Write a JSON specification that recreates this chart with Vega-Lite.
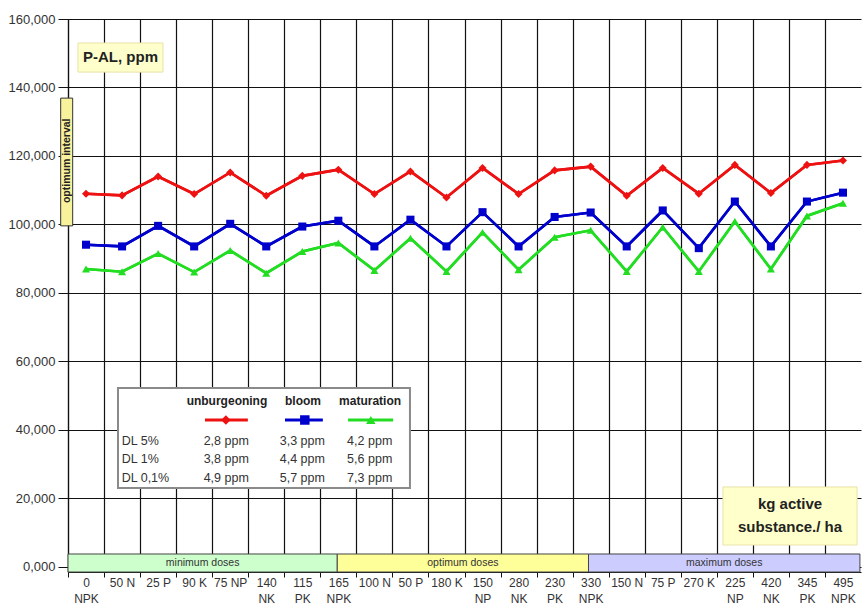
{
  "$schema": "https://vega.github.io/schema/vega-lite/v6.json",
  "width": 793,
  "height": 553,
  "autosize": {"type": "none"},
  "padding": {"left": 68, "top": 19, "right": 1, "bottom": 41},
  "background": "white",
  "config": {
    "view": {"stroke": null},
    "font": "Liberation Sans",
    "locale": {"number": {"decimal": ",", "thousands": ".", "grouping": [3], "currency": ["", ""]}}
  },
  "datasets": {
    "doses": [
      {"idx": 1, "dose": "0 NPK", "stage": "unburgeoning", "ppm": 109.0},
      {"idx": 2, "dose": "50 N", "stage": "unburgeoning", "ppm": 108.5},
      {"idx": 3, "dose": "25 P", "stage": "unburgeoning", "ppm": 114.0},
      {"idx": 4, "dose": "90 K", "stage": "unburgeoning", "ppm": 108.9},
      {"idx": 5, "dose": "75 NP", "stage": "unburgeoning", "ppm": 115.2},
      {"idx": 6, "dose": "140 NK", "stage": "unburgeoning", "ppm": 108.4},
      {"idx": 7, "dose": "115 PK", "stage": "unburgeoning", "ppm": 114.2},
      {"idx": 8, "dose": "165 NPK", "stage": "unburgeoning", "ppm": 116.0},
      {"idx": 9, "dose": "100 N", "stage": "unburgeoning", "ppm": 108.9},
      {"idx": 10, "dose": "50 P", "stage": "unburgeoning", "ppm": 115.5},
      {"idx": 11, "dose": "180 K", "stage": "unburgeoning", "ppm": 107.9},
      {"idx": 12, "dose": "150 NP", "stage": "unburgeoning", "ppm": 116.5},
      {"idx": 13, "dose": "280 NK", "stage": "unburgeoning", "ppm": 108.9},
      {"idx": 14, "dose": "230 PK", "stage": "unburgeoning", "ppm": 115.8},
      {"idx": 15, "dose": "330 NPK", "stage": "unburgeoning", "ppm": 116.9},
      {"idx": 16, "dose": "150 N", "stage": "unburgeoning", "ppm": 108.4},
      {"idx": 17, "dose": "75 P", "stage": "unburgeoning", "ppm": 116.5},
      {"idx": 18, "dose": "270 K", "stage": "unburgeoning", "ppm": 109.0},
      {"idx": 19, "dose": "225 NP", "stage": "unburgeoning", "ppm": 117.4},
      {"idx": 20, "dose": "420 NK", "stage": "unburgeoning", "ppm": 109.2},
      {"idx": 21, "dose": "345 PK", "stage": "unburgeoning", "ppm": 117.4},
      {"idx": 22, "dose": "495 NPK", "stage": "unburgeoning", "ppm": 118.7},
      {"idx": 1, "dose": "0 NPK", "stage": "bloom", "ppm": 94.1},
      {"idx": 2, "dose": "50 N", "stage": "bloom", "ppm": 93.6},
      {"idx": 3, "dose": "25 P", "stage": "bloom", "ppm": 99.6},
      {"idx": 4, "dose": "90 K", "stage": "bloom", "ppm": 93.6},
      {"idx": 5, "dose": "75 NP", "stage": "bloom", "ppm": 100.2},
      {"idx": 6, "dose": "140 NK", "stage": "bloom", "ppm": 93.6},
      {"idx": 7, "dose": "115 PK", "stage": "bloom", "ppm": 99.4},
      {"idx": 8, "dose": "165 NPK", "stage": "bloom", "ppm": 101.1},
      {"idx": 9, "dose": "100 N", "stage": "bloom", "ppm": 93.6},
      {"idx": 10, "dose": "50 P", "stage": "bloom", "ppm": 101.4},
      {"idx": 11, "dose": "180 K", "stage": "bloom", "ppm": 93.6},
      {"idx": 12, "dose": "150 NP", "stage": "bloom", "ppm": 103.6},
      {"idx": 13, "dose": "280 NK", "stage": "bloom", "ppm": 93.6},
      {"idx": 14, "dose": "230 PK", "stage": "bloom", "ppm": 102.2},
      {"idx": 15, "dose": "330 NPK", "stage": "bloom", "ppm": 103.5},
      {"idx": 16, "dose": "150 N", "stage": "bloom", "ppm": 93.6},
      {"idx": 17, "dose": "75 P", "stage": "bloom", "ppm": 104.1},
      {"idx": 18, "dose": "270 K", "stage": "bloom", "ppm": 93.1},
      {"idx": 19, "dose": "225 NP", "stage": "bloom", "ppm": 106.7},
      {"idx": 20, "dose": "420 NK", "stage": "bloom", "ppm": 93.6},
      {"idx": 21, "dose": "345 PK", "stage": "bloom", "ppm": 106.7},
      {"idx": 22, "dose": "495 NPK", "stage": "bloom", "ppm": 109.3},
      {"idx": 1, "dose": "0 NPK", "stage": "maturation", "ppm": 87.0},
      {"idx": 2, "dose": "50 N", "stage": "maturation", "ppm": 86.2},
      {"idx": 3, "dose": "25 P", "stage": "maturation", "ppm": 91.5},
      {"idx": 4, "dose": "90 K", "stage": "maturation", "ppm": 86.1},
      {"idx": 5, "dose": "75 NP", "stage": "maturation", "ppm": 92.4},
      {"idx": 6, "dose": "140 NK", "stage": "maturation", "ppm": 85.8},
      {"idx": 7, "dose": "115 PK", "stage": "maturation", "ppm": 92.1},
      {"idx": 8, "dose": "165 NPK", "stage": "maturation", "ppm": 94.6},
      {"idx": 9, "dose": "100 N", "stage": "maturation", "ppm": 86.6},
      {"idx": 10, "dose": "50 P", "stage": "maturation", "ppm": 96.0},
      {"idx": 11, "dose": "180 K", "stage": "maturation", "ppm": 86.3},
      {"idx": 12, "dose": "150 NP", "stage": "maturation", "ppm": 97.7},
      {"idx": 13, "dose": "280 NK", "stage": "maturation", "ppm": 86.8},
      {"idx": 14, "dose": "230 PK", "stage": "maturation", "ppm": 96.3},
      {"idx": 15, "dose": "330 NPK", "stage": "maturation", "ppm": 98.3},
      {"idx": 16, "dose": "150 N", "stage": "maturation", "ppm": 86.3},
      {"idx": 17, "dose": "75 P", "stage": "maturation", "ppm": 99.2},
      {"idx": 18, "dose": "270 K", "stage": "maturation", "ppm": 86.3},
      {"idx": 19, "dose": "225 NP", "stage": "maturation", "ppm": 100.9},
      {"idx": 20, "dose": "420 NK", "stage": "maturation", "ppm": 87.0},
      {"idx": 21, "dose": "345 PK", "stage": "maturation", "ppm": 102.5},
      {"idx": 22, "dose": "495 NPK", "stage": "maturation", "ppm": 106.2}
    ],
    "bands": [
      {"band": "minimum doses", "start": 0.5, "end": 7.97},
      {"band": "optimum doses", "start": 7.97, "end": 14.94},
      {"band": "maximum doses", "start": 14.94, "end": 22.47}
    ]
  },
  "layer": [
    {
      "data": {"name": "doses"},
      "mark": {"type": "line", "strokeWidth": 2.6},
      "encoding": {
        "x": {
          "field": "idx", "type": "quantitative",
          "scale": {"domain": [0.5, 22.5], "nice": false, "zero": false},
          "axis": {
            "values": [0.5,1.5,2.5,3.5,4.5,5.5,6.5,7.5,8.5,9.5,10.5,11.5,12.5,13.5,14.5,15.5,16.5,17.5,18.5,19.5,20.5,21.5],
            "tickCount": 40,
            "grid": true, "gridColor": "#111111", "gridWidth": 1.2, "gridOpacity": 1,
            "domain": true, "domainColor": "#111111", "domainWidth": 1.2,
            "ticks": true, "tickSize": 5, "tickColor": "#111111",
            "labelOffset": 18, "labelPadding": 0,
            "labelExpr": "split(['0|NPK','50 N','25 P','90 K','75 NP','140|NK','115|PK','165|NPK','100 N','50 P','180 K','150|NP','280|NK','230|PK','330|NPK','150 N','75 P','270 K','225|NP','420|NK','345|PK','495|NPK'][round(datum.value - 0.5)] || '', '|')",
            "labelFontSize": 12, "labelColor": "#333333", "labelLineHeight": 16,
            "labelOverlap": false, "labelFlush": false, "labelBound": false,
            "title": null
          }
        },
        "y": {
          "field": "ppm", "type": "quantitative",
          "scale": {"domain": [-1.46, 160], "nice": false, "zero": false},
          "axis": {
            "values": [0, 20, 40, 60, 80, 100, 120, 140, 160],
            "tickCount": 20,
            "format": ",.3f",
            "grid": true, "gridColor": "#111111", "gridWidth": 1.2, "gridOpacity": 1,
            "domain": true, "domainColor": "#111111", "domainWidth": 1.2,
            "ticks": true, "tickSize": 10, "tickColor": "#111111",
            "labelPadding": 3,
            "labelFontSize": 13, "labelColor": "#333333",
            "title": null
          }
        },
        "color": {
          "field": "stage", "type": "nominal",
          "scale": {"domain": ["unburgeoning", "bloom", "maturation"], "range": ["#ee1111", "#0000cc", "#22dd22"]},
          "legend": null
        }
      }
    },
    {
      "data": {"name": "bands"},
      "mark": {"type": "rect", "stroke": "#444444", "strokeWidth": 1},
      "encoding": {
        "x": {"field": "start", "type": "quantitative"},
        "x2": {"field": "end"},
        "y": {"datum": 3.8, "type": "quantitative"},
        "y2": {"datum": -1.46},
        "fill": {
          "field": "band", "type": "nominal",
          "scale": {"domain": ["minimum doses", "optimum doses", "maximum doses"], "range": ["#ccffcc", "#ffff99", "#ccccff"]},
          "legend": null
        }
      }
    },
    {
      "data": {"name": "bands"},
      "transform": [{"fold": ["start", "end"], "as": ["edge", "pos"]}],
      "mark": {"type": "text", "fontSize": 10.5, "color": "#333333", "baseline": "middle", "align": "center"},
      "encoding": {
        "x": {"aggregate": "mean", "field": "pos", "type": "quantitative"},
        "y": {"datum": 1.17, "type": "quantitative"},
        "text": {"field": "band"}
      }
    },
    {
      "data": {"name": "doses"},
      "mark": {"type": "line", "strokeWidth": 2.6},
      "encoding": {
        "x": {"field": "idx", "type": "quantitative"},
        "y": {"field": "ppm", "type": "quantitative"},
        "color": {"field": "stage", "type": "nominal", "legend": null}
      }
    },
    {
      "data": {"name": "doses"},
      "mark": {"type": "point", "filled": true, "opacity": 1},
      "encoding": {
        "x": {"field": "idx", "type": "quantitative"},
        "y": {"field": "ppm", "type": "quantitative"},
        "color": {"field": "stage", "type": "nominal", "legend": null},
        "shape": {
          "field": "stage", "type": "nominal",
          "scale": {"domain": ["unburgeoning", "bloom", "maturation"], "range": ["diamond", "square", "triangle-up"]},
          "legend": null
        },
        "size": {"value": 65}
      }
    },
    {
      "data": {"values": [{"label": "P-AL, ppm"}]},
      "layer": [
        {
          "mark": {"type": "rect", "fill": "#ffffcc", "stroke": "#e8e2a8", "strokeWidth": 1},
          "encoding": {
            "x": {"datum": 0.777, "type": "quantitative"},
            "x2": {"datum": 3.135},
            "y": {"datum": 153.0, "type": "quantitative"},
            "y2": {"datum": 144.5}
          }
        },
        {
          "mark": {"type": "text", "fontSize": 15, "fontWeight": "bold", "color": "#222222", "baseline": "middle", "align": "center"},
          "encoding": {
            "x": {"datum": 1.956, "type": "quantitative"},
            "y": {"datum": 148.8, "type": "quantitative"},
            "text": {"field": "label"}
          }
        }
      ]
    },
    {
      "data": {"values": [{"label": "optimum interval"}]},
      "layer": [
        {
          "mark": {"type": "rect", "fill": "#f8f29c", "stroke": "#333333", "strokeWidth": 1},
          "encoding": {
            "x": {"datum": 0.297, "type": "quantitative"},
            "x2": {"datum": 0.63},
            "y": {"datum": 136.9, "type": "quantitative"},
            "y2": {"datum": 99.6}
          }
        },
        {
          "mark": {"type": "text", "fontSize": 10.5, "fontWeight": "bold", "color": "#222222", "baseline": "middle", "align": "center", "angle": 270},
          "encoding": {
            "x": {"datum": 0.463, "type": "quantitative"},
            "y": {"datum": 118.6, "type": "quantitative"},
            "text": {"field": "label"}
          }
        }
      ]
    },
    {
      "data": {"values": [{"label": ["kg active", "substance./ ha"]}]},
      "layer": [
        {
          "mark": {"type": "rect", "fill": "#ffffcc", "stroke": "#e8e2a8", "strokeWidth": 1},
          "encoding": {
            "x": {"datum": 18.67, "type": "quantitative"},
            "x2": {"datum": 22.39},
            "y": {"datum": 23.36, "type": "quantitative"},
            "y2": {"datum": 6.42}
          }
        },
        {
          "mark": {"type": "text", "fontSize": 15, "fontWeight": "bold", "color": "#222222", "baseline": "middle", "align": "center", "lineHeight": 23},
          "encoding": {
            "x": {"datum": 20.53, "type": "quantitative"},
            "y": {"datum": 18.4, "type": "quantitative"},
            "text": {"field": "label"}
          }
        }
      ]
    },
    {
      "data": {"values": [{"rows": ["DL 5%", "DL 1%", "DL 0,1%"]}]},
      "layer": [
        {
          "mark": {"type": "rect", "fill": "white", "stroke": "#8a8a8a", "strokeWidth": 2},
          "encoding": {
            "x": {"datum": 1.887, "type": "quantitative"},
            "x2": {"datum": 9.987},
            "y": {"datum": 52.26, "type": "quantitative"},
            "y2": {"datum": 23.07}
          }
        },
        {
          "mark": {"type": "text", "fontSize": 12.5, "color": "#333333", "baseline": "middle", "align": "left", "lineHeight": 18.5},
          "encoding": {
            "x": {"datum": 1.99, "type": "quantitative"},
            "y": {"datum": 36.79, "type": "quantitative"},
            "text": {"field": "rows"}
          }
        }
      ]
    },
    {
      "data": {"values": [{"stage": "unburgeoning", "dl": ["2,8 ppm", "3,8 ppm", "4,9 ppm"]}]},
      "layer": [
        {
          "mark": {"type": "text", "fontSize": 12, "fontWeight": "bold", "color": "#222222", "baseline": "middle", "align": "center"},
          "encoding": {
            "x": {"datum": 4.91, "type": "quantitative"},
            "y": {"datum": 48.47, "type": "quantitative"},
            "text": {"field": "stage"}
          }
        },
        {
          "mark": {"type": "rule", "color": "#ee1111", "strokeWidth": 3},
          "encoding": {
            "x": {"datum": 4.3, "type": "quantitative"},
            "x2": {"datum": 5.49},
            "y": {"datum": 42.92, "type": "quantitative"}
          }
        },
        {
          "mark": {"type": "point", "shape": "diamond", "filled": true, "opacity": 1, "color": "#ee1111", "size": 90},
          "encoding": {
            "x": {"datum": 4.88, "type": "quantitative"},
            "y": {"datum": 42.92, "type": "quantitative"}
          }
        },
        {
          "mark": {"type": "text", "fontSize": 12.5, "color": "#333333", "baseline": "middle", "align": "center", "lineHeight": 18.5},
          "encoding": {
            "x": {"datum": 4.89, "type": "quantitative"},
            "y": {"datum": 36.79, "type": "quantitative"},
            "text": {"field": "dl"}
          }
        }
      ]
    },
    {
      "data": {"values": [{"stage": "bloom", "dl": ["3,3 ppm", "4,4 ppm", "5,7 ppm"]}]},
      "layer": [
        {
          "mark": {"type": "text", "fontSize": 12, "fontWeight": "bold", "color": "#222222", "baseline": "middle", "align": "center"},
          "encoding": {
            "x": {"datum": 7.02, "type": "quantitative"},
            "y": {"datum": 48.47, "type": "quantitative"},
            "text": {"field": "stage"}
          }
        },
        {
          "mark": {"type": "rule", "color": "#0000cc", "strokeWidth": 3},
          "encoding": {
            "x": {"datum": 6.52, "type": "quantitative"},
            "x2": {"datum": 7.57},
            "y": {"datum": 42.92, "type": "quantitative"}
          }
        },
        {
          "mark": {"type": "point", "shape": "square", "filled": true, "opacity": 1, "color": "#0000cc", "size": 90},
          "encoding": {
            "x": {"datum": 7.07, "type": "quantitative"},
            "y": {"datum": 42.92, "type": "quantitative"}
          }
        },
        {
          "mark": {"type": "text", "fontSize": 12.5, "color": "#333333", "baseline": "middle", "align": "center", "lineHeight": 18.5},
          "encoding": {
            "x": {"datum": 7.0, "type": "quantitative"},
            "y": {"datum": 36.79, "type": "quantitative"},
            "text": {"field": "dl"}
          }
        }
      ]
    },
    {
      "data": {"values": [{"stage": "maturation", "dl": ["4,2 ppm", "5,6 ppm", "7,3 ppm"]}]},
      "layer": [
        {
          "mark": {"type": "text", "fontSize": 12, "fontWeight": "bold", "color": "#222222", "baseline": "middle", "align": "center"},
          "encoding": {
            "x": {"datum": 8.88, "type": "quantitative"},
            "y": {"datum": 48.47, "type": "quantitative"},
            "text": {"field": "stage"}
          }
        },
        {
          "mark": {"type": "rule", "color": "#22dd22", "strokeWidth": 3},
          "encoding": {
            "x": {"datum": 8.27, "type": "quantitative"},
            "x2": {"datum": 9.52},
            "y": {"datum": 42.92, "type": "quantitative"}
          }
        },
        {
          "mark": {"type": "point", "shape": "triangle-up", "filled": true, "opacity": 1, "color": "#22dd22", "size": 90},
          "encoding": {
            "x": {"datum": 8.9, "type": "quantitative"},
            "y": {"datum": 42.92, "type": "quantitative"}
          }
        },
        {
          "mark": {"type": "text", "fontSize": 12.5, "color": "#333333", "baseline": "middle", "align": "center", "lineHeight": 18.5},
          "encoding": {
            "x": {"datum": 8.87, "type": "quantitative"},
            "y": {"datum": 36.79, "type": "quantitative"},
            "text": {"field": "dl"}
          }
        }
      ]
    }
  ]
}
